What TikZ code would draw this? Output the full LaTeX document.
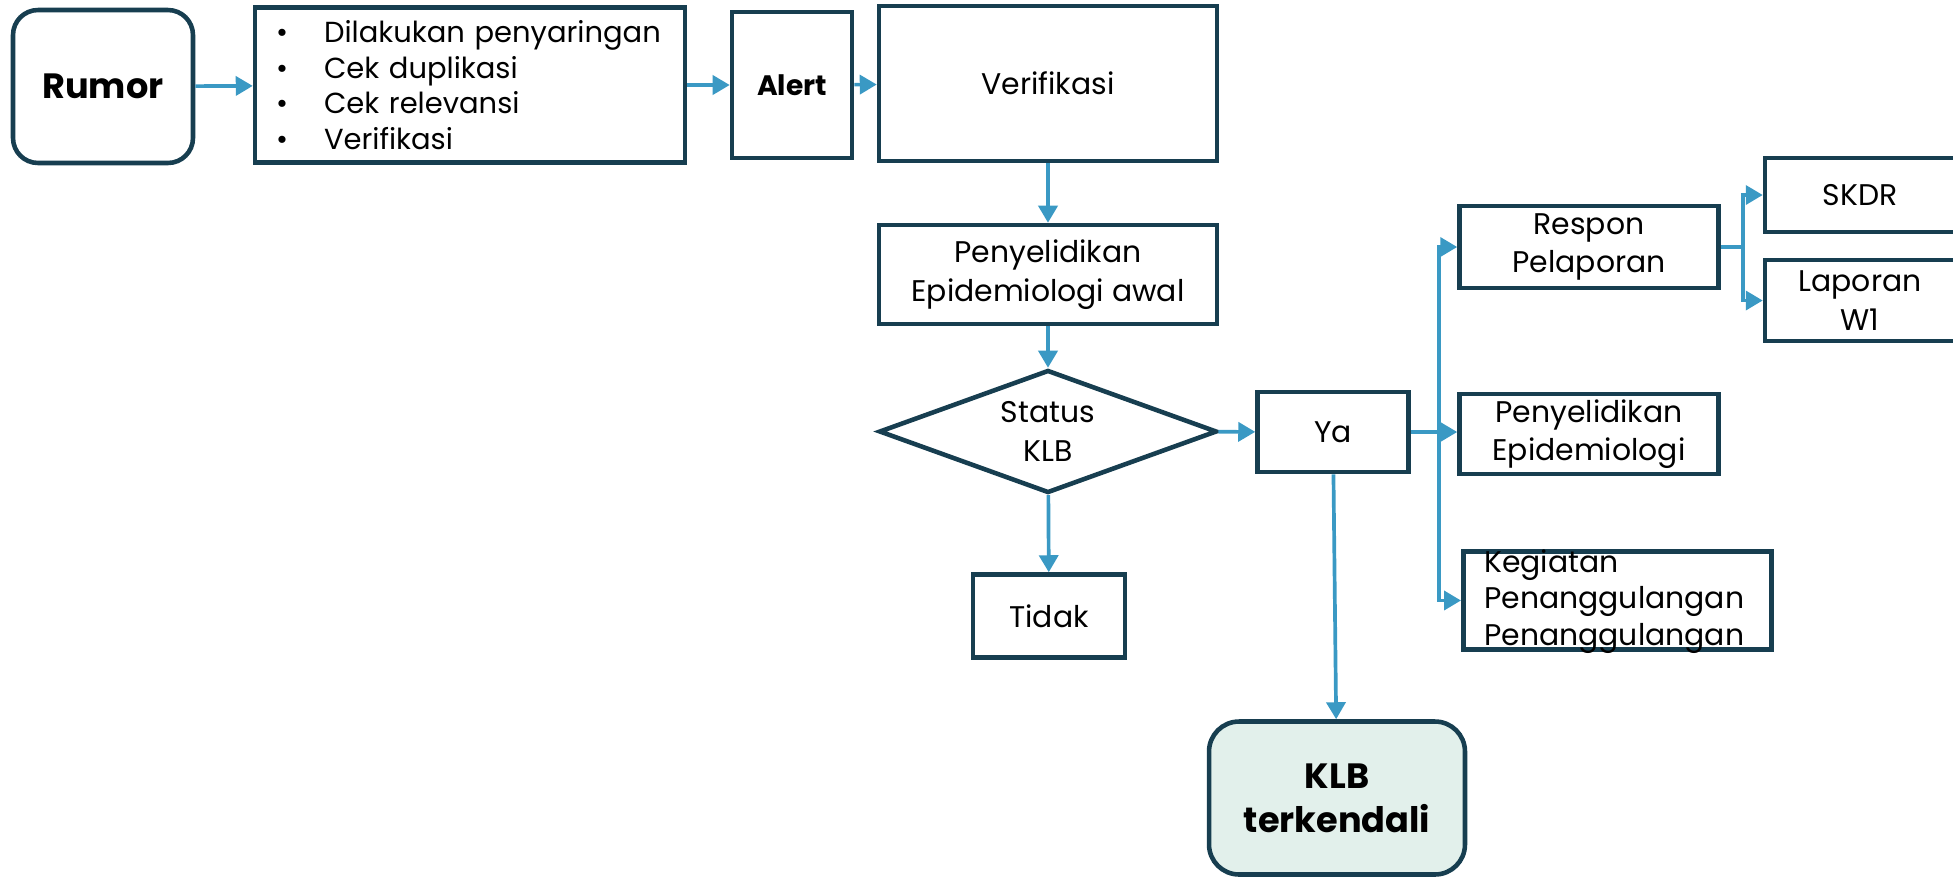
\documentclass[tikz,border=0pt]{standalone}
\usepackage{fontspec}
\setmainfont{Poppins}
\usetikzlibrary{arrows.meta, shapes.geometric}
\usepackage{xcolor}
\definecolor{boxline}{RGB}{23,62,80}
\definecolor{flow}{RGB}{58,153,196}
\definecolor{mint}{RGB}{226,240,235}
\newcommand{\bul}{\makebox[0.96cm][l]{\textbullet}}

\begin{document}
\begin{tikzpicture}[
x=0.02cm, y=-0.02cm,
box/.style={draw=boxline, line width=2.6pt, rectangle, align=center, inner sep=0pt, font=\fontsize{17}{22}\selectfont},
rbox/.style={box, rounded corners=0.5cm, font=\fontsize{20}{25}\selectfont\bfseries},
decision/.style={box, diamond, aspect=2.75},
arrow/.style={-{Triangle[length=0.34cm, width=0.38cm]}, draw=flow, line width=2.1pt} ]

\useasboundingbox (0,0) rectangle (1953,877);
\clip (0,0) rectangle (1953,877);

\node[rbox, minimum width=3.6cm, minimum height=3.06cm] (rumor) at (103,86.5) {Rumor};
\node[box, minimum width=8.6cm, minimum height=3.1cm, align=left, text width=7.76cm, font=\fontsize{16.5}{20.3}\selectfont] (cek) at (470,85) {\bul\mbox{Dilakukan penyaringan}\\ \bul Cek duplikasi\\ \bul Cek relevansi\\ \bul Verifikasi};
\node[box, minimum width=2.4cm, minimum height=2.92cm, font=\fontsize{16}{20}\selectfont\bfseries] (alert) at (792,85) {Alert};
\node[box, minimum width=6.76cm, minimum height=3.1cm] (verif) at (1048,83.5) {Verifikasi};
\node[box, minimum width=6.76cm, minimum height=1.98cm] (pe0) at (1048,274.5) {Penyelidikan\\Epidemiologi awal};
\node[decision, minimum width=6.76cm, minimum height=2.46cm] (status) at (1048,431.5) {Status\\KLB};
\node[box, minimum width=3.02cm, minimum height=1.6cm] (ya) at (1333,432) {Ya};
\node[box, minimum width=3.04cm, minimum height=1.66cm] (tidak) at (1049,616) {Tidak};
\node[rbox, fill=mint, rounded corners=0.6cm, minimum width=5.12cm, minimum height=3.06cm] (klb) at (1337,798) {KLB\\terkendali};
\node[box, minimum width=5.18cm, minimum height=1.64cm] (respon) at (1589,247) {Respon\\Pelaporan};
\node[box, minimum width=5.18cm, minimum height=1.6cm] (pe) at (1589,434) {Penyelidikan\\Epidemiologi};
\node[box, anchor=north west, align=left, text width=5.32cm, inner xsep=0.42cm, text height=12pt, text depth=44pt, font=\fontsize{17}{20.8}\selectfont] (kegiatan) at (1461,549) {Kegiatan\\Penanggulangan\\Penanggulangan};
\node[box, minimum width=3.8cm, minimum height=1.48cm] (skdr) at (1860,195) {SKDR};
\node[box, minimum width=3.8cm, minimum height=1.62cm] (laporan) at (1860,300.5) {Laporan\\W1};

\draw[arrow] (rumor) -- (cek);
\draw[arrow] (cek) -- (alert);
\draw[arrow] (alert) -- (verif);
\draw[arrow] (verif) -- (pe0);
\draw[arrow] (pe0) -- (status);
\draw[arrow] (status) -- (ya);
\draw[arrow] (status) -- (tidak);
\draw[arrow] (ya) -- (klb);
\draw[arrow] (ya.east) -- ++(28,0) |- (respon);
\draw[arrow] (ya.east) -- (ya.east -| pe.west);
\draw[arrow] (ya.east) -- ++(28,0) |- (kegiatan);
\draw[arrow] (respon.east) -- ++(22,0) |- (skdr);
\draw[arrow] (respon.east) -- ++(22,0) |- (laporan);

\end{tikzpicture}
\end{document}
